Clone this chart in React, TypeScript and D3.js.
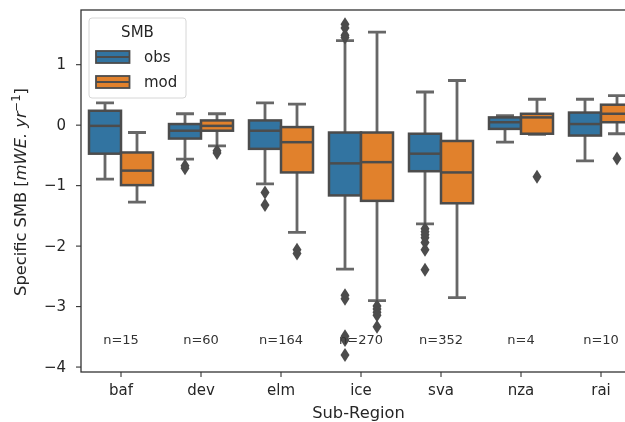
import { useRef, useEffect } from 'react';
import * as d3 from 'd3';

const regions = ['baf', 'dev', 'elm', 'ice', 'sva', 'nza', 'rai'];
const counts = [15, 60, 164, 270, 352, 4, 10];
const hues = ['obs', 'mod'];
const yTicks = [1, 0, -1, -2, -3, -4];

const obsHigh = [0.36, 0.18, 0.36, 1.39, 0.54, 0.15, 0.42];
const obsQ3 = [0.23, 0.01, 0.07, -0.13, -0.15, 0.12, 0.2];
const obsMedian = [-0.02, -0.1, -0.1, -0.64, -0.48, 0.04, 0.01];
const obsQ1 = [-0.48, -0.23, -0.4, -1.17, -0.77, -0.07, -0.18];
const obsLow = [-0.9, -0.57, -0.98, -2.39, -1.64, -0.29, -0.6];
const obsFliers = [
  [],
  [-0.68, -0.72],
  [-1.12, -1.33],
  [1.66, 1.6, 1.48, 1.44, -2.82, -2.88, -3.5, -3.56, -3.81],
  [-1.72, -1.77, -1.82, -1.87, -1.95, -2.07, -2.4],
  [],
  [],
];

const modHigh = [-0.13, 0.18, 0.34, 1.53, 0.73, 0.42, 0.48];
const modQ3 = [-0.46, 0.07, -0.04, -0.13, -0.27, 0.18, 0.33];
const modMedian = [-0.76, -0.02, -0.29, -0.62, -0.79, 0.12, 0.18];
const modQ1 = [-1.0, -0.1, -0.79, -1.26, -1.3, -0.15, 0.04];
const modLow = [-1.28, -0.35, -1.78, -2.91, -2.86, -0.16, -0.15];
const modFliers = [
  [],
  [-0.43, -0.47],
  [-2.07, -2.13],
  [-3.0, -3.05, -3.1, -3.15, -3.34],
  [],
  [-0.86],
  [-0.56],
];

const colors = ['#3274a1', '#e1812c'];
const lineColor = '#4c4c4c';
const inkColor = '#333333';
const fontFamily = '"DejaVu Sans", sans-serif';

type Box = {
  region: string;
  hue: string;
  high: number;
  q3: number;
  median: number;
  q1: number;
  low: number;
  fliers: number[];
};

const boxes: Box[] = regions.flatMap((region, i) => [
  { region, hue: 'obs', high: obsHigh[i], q3: obsQ3[i], median: obsMedian[i], q1: obsQ1[i], low: obsLow[i], fliers: obsFliers[i] },
  { region, hue: 'mod', high: modHigh[i], q3: modQ3[i], median: modMedian[i], q1: modQ1[i], low: modLow[i], fliers: modFliers[i] },
]);

export default function App() {
  const svgRef = useRef<SVGSVGElement>(null);

  useEffect(() => {
    if (!svgRef.current) return;
    document.body.style.margin = '0';
    document.body.style.overflow = 'hidden';

    const svg = d3.select(svgRef.current);
    svg.selectAll('*').remove();

    const left = 81;
    const right = 641;
    const top = 10;
    const bottom = 372;

    const x = d3.scaleBand<string>().domain(regions).range([left, right]);
    const xHue = d3.scaleBand<string>().domain(hues).range([0, x.bandwidth()]).paddingOuter(0.25);
    const y = d3.scaleLinear().domain([-4.09, 1.896]).range([bottom, top]);

    const g = svg.append('g');
    const capHalf = 9;

    const box = g
      .selectAll('g.box')
      .data(boxes)
      .join('g')
      .attr('class', 'box')
      .attr('transform', (d) => `translate(${(x(d.region) ?? 0) + (xHue(d.hue) ?? 0)},0)`);

    const mid = xHue.bandwidth() / 2;

    // whiskers and caps sit under the box
    box
      .append('path')
      .attr('fill', 'none')
      .attr('stroke', lineColor)
      .attr('stroke-width', 2.8)
      .attr('stroke-opacity', 0.85)
      .attr(
        'd',
        (d) =>
          `M${mid},${y(d.q3)}V${y(d.high)}M${mid - capHalf},${y(d.high)}H${mid + capHalf}` +
          `M${mid},${y(d.q1)}V${y(d.low)}M${mid - capHalf},${y(d.low)}H${mid + capHalf}`,
      );

    box
      .append('rect')
      .attr('x', 0)
      .attr('width', xHue.bandwidth())
      .attr('y', (d) => y(d.q3))
      .attr('height', (d) => y(d.q1) - y(d.q3))
      .attr('fill', (d) => colors[hues.indexOf(d.hue)])
      .attr('stroke', lineColor)
      .attr('stroke-width', 2.5);

    box
      .append('line')
      .attr('x1', 0)
      .attr('x2', xHue.bandwidth())
      .attr('y1', (d) => y(d.median))
      .attr('y2', (d) => y(d.median))
      .attr('stroke', lineColor)
      .attr('stroke-width', 2.5);

    box
      .selectAll('path.flier')
      .data((d) => d.fliers)
      .join('path')
      .attr('class', 'flier')
      .attr('fill', lineColor)
      .attr('d', (d) => `M${mid},${y(d) - 7}L${mid + 4.5},${y(d)}L${mid},${y(d) + 7}L${mid - 4.5},${y(d)}Z`);

    // n= labels
    g.selectAll('text.count')
      .data(regions)
      .join('text')
      .attr('class', 'count')
      .attr('x', (d) => (x(d) ?? 0) + x.bandwidth() / 2)
      .attr('y', 339)
      .attr('dy', '0.35em')
      .attr('text-anchor', 'middle')
      .attr('font-family', fontFamily)
      .attr('font-size', 13)
      .attr('fill', inkColor)
      .text((d, i) => `n=${counts[i]}`);

    // axes
    const xAxis = svg
      .append('g')
      .attr('transform', `translate(0,${bottom})`)
      .call(d3.axisBottom(x).tickSize(5).tickSizeOuter(0).tickPadding(7));
    const yAxis = svg
      .append('g')
      .attr('transform', `translate(${left},0)`)
      .call(d3.axisLeft(y).tickValues(yTicks).tickFormat(d3.format('d')).tickSize(5).tickSizeOuter(0).tickPadding(10));

    [xAxis, yAxis].forEach((axis) => {
      axis.selectAll('.domain').remove();
      axis.selectAll('line').attr('stroke', inkColor).attr('stroke-width', 1.1);
      axis.selectAll('text').attr('font-family', fontFamily).attr('font-size', 15).attr('fill', '#262626');
    });

    // spines
    svg
      .append('rect')
      .attr('x', left)
      .attr('y', top)
      .attr('width', right - left)
      .attr('height', bottom - top)
      .attr('fill', 'none')
      .attr('stroke', inkColor)
      .attr('stroke-width', 1.3);

    svg
      .append('text')
      .attr('x', 358.5)
      .attr('y', 418)
      .attr('text-anchor', 'middle')
      .attr('font-family', fontFamily)
      .attr('font-size', 16.3)
      .attr('fill', '#262626')
      .text('Sub-Region');

    const yLabel = svg
      .append('text')
      .attr('transform', 'translate(26,192) rotate(-90)')
      .attr('text-anchor', 'middle')
      .attr('font-family', fontFamily)
      .attr('font-size', 16.3)
      .attr('fill', '#262626');
    yLabel.append('tspan').text('Specific SMB [');
    yLabel.append('tspan').attr('font-style', 'italic').text('mWE. yr');
    yLabel.append('tspan').attr('font-size', 11.5).attr('dy', -6).text('−1');
    yLabel.append('tspan').attr('dy', 6).text(']');

    // legend
    const legend = svg.append('g');
    legend
      .append('rect')
      .attr('x', 89)
      .attr('y', 18)
      .attr('width', 97)
      .attr('height', 80)
      .attr('rx', 3)
      .attr('fill', '#ffffff')
      .attr('fill-opacity', 0.8)
      .attr('stroke', '#d6d6d6');
    legend
      .append('text')
      .attr('x', 137.5)
      .attr('y', 37)
      .attr('text-anchor', 'middle')
      .attr('font-family', fontFamily)
      .attr('font-size', 15)
      .attr('fill', '#262626')
      .text('SMB');
    const legendY = d3.scalePoint<string>().domain(hues).range([57, 82]);
    const item = legend
      .selectAll('g.item')
      .data(hues)
      .join('g')
      .attr('class', 'item')
      .attr('transform', (d) => `translate(0,${legendY(d)})`);
    item
      .append('rect')
      .attr('x', 96)
      .attr('y', -6)
      .attr('width', 33.5)
      .attr('height', 12)
      .attr('fill', (d, i) => colors[i])
      .attr('stroke', lineColor)
      .attr('stroke-width', 1.8);
    item
      .append('line')
      .attr('x1', 96)
      .attr('x2', 129.5)
      .attr('stroke', lineColor)
      .attr('stroke-width', 1.8);
    item
      .append('text')
      .attr('x', 144)
      .attr('dy', '0.33em')
      .attr('font-family', fontFamily)
      .attr('font-size', 15)
      .attr('fill', '#262626')
      .text((d) => d);
  }, []);

  return (
    <svg
      ref={svgRef}
      width={625}
      height={422}
      style={{ position: 'absolute', left: 0, top: 0, background: '#ffffff', filter: 'blur(0.5px)' }}
    />
  );
}
